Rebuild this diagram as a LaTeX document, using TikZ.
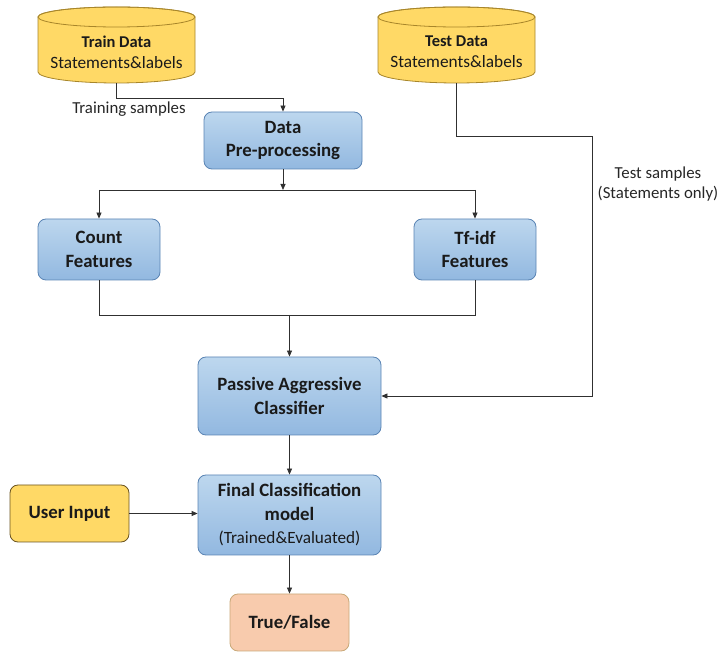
\documentclass[tikz,border=0pt]{standalone}
\usepackage{fontspec}
\setmainfont{Carlito}
\usetikzlibrary{arrows.meta,calc}
\definecolor{cylfill}{HTML}{FFD966}
\definecolor{cylline}{HTML}{A8862A}
\definecolor{bluetop}{HTML}{BDD7EE}
\definecolor{bluebot}{HTML}{92B8E0}
\definecolor{blueline}{HTML}{5A84B4}
\definecolor{userline}{HTML}{6B5420}
\definecolor{peach}{HTML}{F8CBAD}
\definecolor{peachline}{HTML}{C8A878}
\definecolor{conncol}{HTML}{303030}
\definecolor{txt}{HTML}{1A1A1A}
\tikzset{
  boxfont/.style={font=\fontsize{18.8}{23.5}\selectfont\bfseries, text=txt},
  bluebox/.style={draw=blueline, line width=0.8pt, rounded corners=8pt, top color=bluetop, bottom color=bluebot, align=center, boxfont, inner sep=0pt},
  userbox/.style={draw=userline, line width=0.8pt, rounded corners=8pt, fill=cylfill, align=center, boxfont, inner sep=0pt},
  tfbox/.style={draw=peachline, line width=0.8pt, rounded corners=8pt, fill=peach, align=center, boxfont, inner sep=0pt},
  cyltext/.style={align=center, font=\fontsize{17.3}{21}\selectfont, inner sep=0pt, text=txt},
  lbl/.style={align=center, font=\fontsize{16.8}{20}\selectfont, inner sep=0pt, text=black!85},
  conn/.style={draw=conncol, line width=0.8pt},
  arr/.style={conn, -{Triangle[length=6pt,width=5pt]}},
  hidden/.style={inner sep=0pt, draw=none}
}
\begin{document}
\begin{tikzpicture}[x=1pt,y=-1pt]
\useasboundingbox (0,0) rectangle (724,652);
% cylinders
\foreach \cx in {116.5, 456.5} {
  \path[fill=cylfill, draw=cylline, line width=0.8pt]
    (\cx-78.5,17) -- (\cx-78.5,72) arc[start angle=180, end angle=0, x radius=78.5, y radius=11]
    -- (\cx+78.5,17) arc[start angle=0, end angle=-180, x radius=78.5, y radius=10] -- cycle;
  \draw[cylline, line width=0.8pt] (\cx,17) ellipse[x radius=78.5, y radius=10];
}
\node[hidden, minimum width=157pt, minimum height=76pt] (train) at (116.5,45) {};
\node[hidden, minimum width=157pt, minimum height=76pt] (test) at (456.5,45) {};
\node[cyltext] (traintxt) at (116.5,52) {{\fontsize{16.5}{21}\selectfont\bfseries Train Data}\\Statements\&labels};
\node[cyltext] (testtxt) at (456.5,52) {{\fontsize{16.5}{21}\selectfont\bfseries Test Data}\\Statements\&labels};

% boxes
\node[bluebox, minimum width=158pt, minimum height=57pt] (prep) at (283,140.5) {Data\\Pre-processing};
\node[bluebox, minimum width=122pt, minimum height=61pt] (count) at (99,249.5) {Count\\Features};
\node[bluebox, minimum width=122pt, minimum height=61pt] (tfidf) at (475,249.5) {Tf-idf\\Features};
\node[bluebox, minimum width=183pt, minimum height=78pt] (pac) at (289.5,396) {Passive Aggressive\\Classifier};
\node[bluebox, minimum width=183pt, minimum height=80pt] (final) at (289.5,515) {Final Classification\\model\\{\fontsize{17.2}{23.5}\selectfont\mdseries (Trained\&Evaluated)}};
\node[userbox, minimum width=119pt, minimum height=57pt] (user) at (69.5,513.5) {User Input};
\node[tfbox, minimum width=119pt, minimum height=57pt] (tf) at (289.5,622.5) {True/False};

% labels
\node[lbl] (trainlbl) at (129,109.5) {Training samples};
\node[lbl] (testlbl) at (658,184) {Test samples\\(Statements only)};

% coordinates
\coordinate (split) at (283,190);
\coordinate (merge) at (289.5,315);
\coordinate (tc) at (592,136);

% connectors
\draw[arr] (train.south) -- ++(0,15) -| (prep.north);
\draw[arr] (test.south) |- (tc) |- (pac.east);
\draw[arr] (prep.south) -- (split);
\draw[conn] (count.north |- split) -- (tfidf.north |- split);
\draw[arr] (count.north |- split) -- (count.north);
\draw[arr] (tfidf.north |- split) -- (tfidf.north);
\draw[conn] (count.south) |- (tfidf.south |- merge) -- (tfidf.south);
\draw[arr] (merge) -- (pac.north);
\draw[arr] (pac.south) -- (final.north);
\draw[arr] (user.east) -- (final.west |- user.east);
\draw[arr] (final.south) -- (tf.north);
\end{tikzpicture}
\end{document}
